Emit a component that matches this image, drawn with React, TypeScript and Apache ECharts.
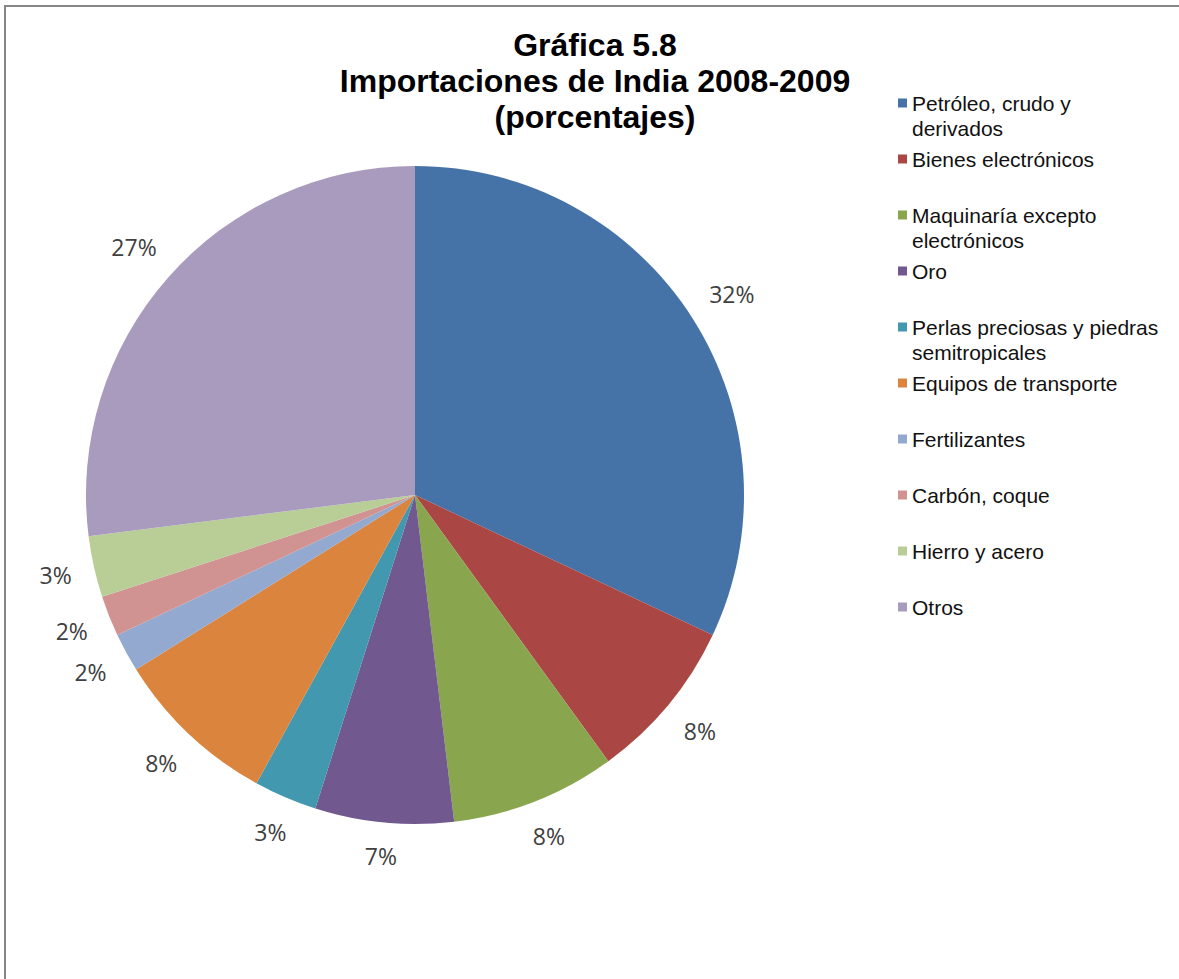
import React, { useEffect, useRef } from "react";
import * as echarts from "echarts";

const titleLines = ["Gráfica 5.8", "Importaciones de India 2008-2009", "(porcentajes)"];

const categories = [
  "Petróleo, crudo y derivados",
  "Bienes electrónicos",
  "Maquinaría excepto electrónicos",
  "Oro",
  "Perlas preciosas y piedras semitropicales",
  "Equipos de transporte",
  "Fertilizantes",
  "Carbón, coque",
  "Hierro y acero",
  "Otros",
];

// legend lines (wrapped as in the reference)
const legendLines: string[][] = [
  ["Petróleo, crudo y", "derivados"],
  ["Bienes electrónicos"],
  ["Maquinaría excepto", "electrónicos"],
  ["Oro"],
  ["Perlas preciosas y piedras", "semitropicales"],
  ["Equipos de transporte"],
  ["Fertilizantes"],
  ["Carbón, coque"],
  ["Hierro y acero"],
  ["Otros"],
];

const values = [32, 8, 8.1, 6.8, 3.1, 8.1, 1.9, 2, 3, 27];

const colors = [
  "#4572A7",
  "#AA4643",
  "#89A54E",
  "#71588F",
  "#4198AF",
  "#DB843D",
  "#93A9CF",
  "#D19392",
  "#B9CD96",
  "#A99BBD",
];

const CX = 415;
const CY = 495;
const R = 329;
const LABEL_GAP = 21;

export default function App() {
  const ref = useRef<HTMLDivElement>(null);

  useEffect(() => {
    if (!ref.current) return;
    const chart = echarts.init(ref.current, null, { renderer: "svg" });
    const data = categories.map((name, i) => ({
      name,
      value: values[i],
      itemStyle: { color: colors[i] },
    }));
    const legendText: Record<string, string> = {};
    categories.forEach((c, i) => {
      const l = legendLines[i];
      legendText[c] = "\n" + l[0] + "\n" + (l[1] || "");
    });

    chart.setOption({
      animation: false,
      backgroundColor: "#ffffff",
      title: {
        text: titleLines.join("\n"),
        left: 595,
        top: 27,
        padding: 0,
        textAlign: "center",
        textStyle: {
          fontFamily: "Liberation Sans",
          fontSize: 32,
          fontWeight: "bold",
          lineHeight: 36,
          color: "#000000",
        },
      },
      legend: {
        orient: "vertical",
        left: 898,
        top: 65.5,
        padding: 0,
        itemWidth: 9,
        itemHeight: 9,
        itemGap: -19,
        icon: "rect",
        selectedMode: false,
        data: categories,
        formatter: (name: string) => legendText[name],
        textStyle: {
          fontFamily: "Liberation Sans",
          fontSize: 21,
          lineHeight: 25,
          color: "#111111",
        },
      },
      graphic: [
        {
          type: "polyline",
          shape: { points: [[5, 1000], [5, 6], [1200, 6]] },
          style: { fill: "none", stroke: "#868686", lineWidth: 2 },
          silent: true,
          z: 10,
        },
      ],
      series: [
        {
          type: "pie",
          center: [CX, CY],
          radius: [0, R],
          startAngle: 90,
          clockwise: true,
          avoidLabelOverlap: false,
          itemStyle: { borderWidth: 0 },
          labelLine: { show: false },
          emphasis: { disabled: true },
          label: {
            show: true,
            position: "inside",
            formatter: (p: any) => `${Math.round(p.percent)}%`,
            fontFamily: "Open Sans",
            fontSize: 23,
            color: "#404040",
          },
          labelLayout: (p: any) => {
            const r = p.labelRect;
            const lx = r.x + r.width / 2;
            const ly = r.y + r.height / 2;
            const dx = lx - CX;
            const dy = ly - CY;
            const len = Math.hypot(dx, dy) || 1;
            const ux = dx / len;
            const uy = dy / len;
            const s = (r.width / 2) * Math.abs(ux) + (r.height / 2) * Math.abs(uy);
            const dist = R + LABEL_GAP + s;
            return { x: CX + ux * dist, y: CY + uy * dist };
          },
          data,
        },
      ],
    });
    return () => chart.dispose();
  }, []);

  return (
    <div
      ref={ref}
      style={{ position: "fixed", left: 0, top: 0, width: 1179, height: 979 }}
    />
  );
}
